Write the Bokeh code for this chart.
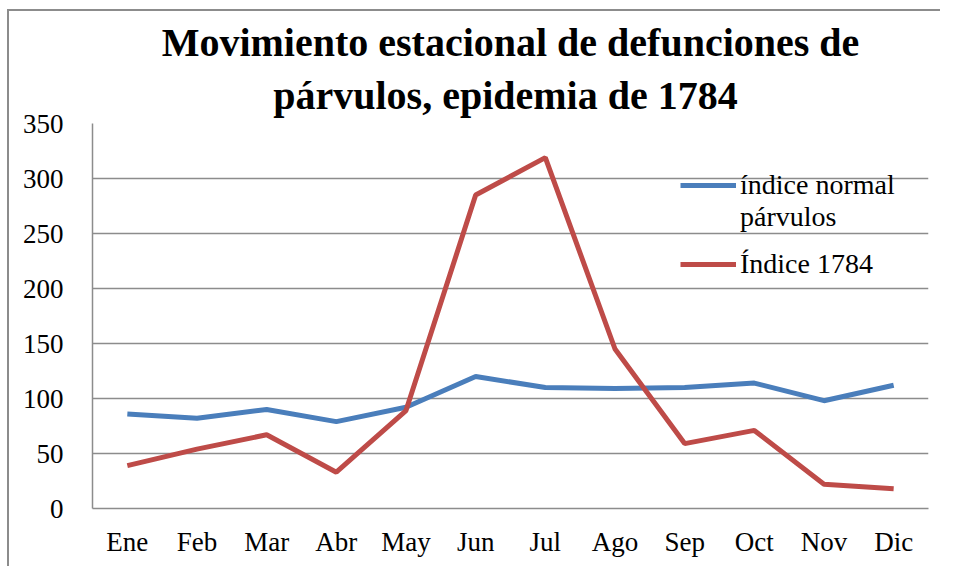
from bokeh.plotting import figure
from bokeh.models import Title, Legend, LegendItem, FactorRange, Range1d, SingleIntervalTicker
from bokeh.embed import file_html
from bokeh.resources import INLINE

months = ["Ene", "Feb", "Mar", "Abr", "May", "Jun", "Jul", "Ago", "Sep", "Oct", "Nov", "Dic"]
normal = [86, 82, 90, 79, 92, 120, 110, 109, 110, 114, 98, 112]
epid_1784 = [39, 54, 67, 33, 89, 285, 319, 145, 59, 71, 22, 18]
title_line1 = "Movimiento estacional de defunciones de"
title_line2 = "párvulos, epidemia  de 1784"
label_normal_1 = "índice normal"
label_normal_2 = "párvulos"
label_1784 = "Índice 1784"

FONT = "Liberation Serif"
BLUE = "#4A7EBB"
RED = "#BE4B48"
GRID = "#8c8c8c"

p = figure(x_range=FactorRange(*months), y_range=Range1d(0, 350),
           width=933, height=557, output_backend="svg", toolbar_location=None,
           min_border_left=83, min_border_right=14, min_border_bottom=60, min_border_top=112)

p.styles = {"border-left": "2px solid #8c8c8c", "border-top": "2px solid #8c8c8c",
            "margin-left": "7px", "margin-top": "9px"}

p.title.text = title_line1
p.title.align = "center"
p.title.text_font = FONT
p.title.text_font_size = "40px"
p.title.text_font_style = "bold"
p.title.text_color = "black"
p.title.standoff = 0
p.add_layout(Title(text=title_line2, align="center", text_font=FONT, text_font_size="40px",
                   text_font_style="bold", text_color="black", standoff=12), "above")

r1 = p.line(months, normal, line_color=BLUE, line_width=5)
r2 = p.line(months, epid_1784, line_color=RED, line_width=5)
r_blank = p.line(months, normal, line_alpha=0)

common = dict(background_fill_alpha=0, border_line_alpha=0, label_text_font=FONT,
              label_text_font_size="28px", label_text_color="black", glyph_width=56,
              glyph_height=28, label_height=28, label_standoff=4, spacing=0,
              padding=0, margin=0)
legend_a = Legend(items=[LegendItem(label=label_normal_1, renderers=[r1]),
                         LegendItem(label=label_normal_2, renderers=[r_blank])],
                  location=(588, 275), **common)
legend_b = Legend(items=[LegendItem(label=label_1784, renderers=[r2])],
                  location=(588, 228), **common)
p.add_layout(legend_a)
p.add_layout(legend_b)

p.yaxis.ticker = SingleIntervalTicker(interval=50)
for ax in (p.xaxis, p.yaxis):
    ax.axis_line_color = GRID
    ax.axis_line_width = 1.5
    ax.major_tick_line_color = None
    ax.minor_tick_line_color = None
    ax.major_tick_out = 0
    ax.major_tick_in = 0
    ax.major_label_text_font = FONT
    ax.major_label_text_font_size = "27px"
    ax.major_label_text_color = "black"
p.xaxis.major_label_standoff = 18
p.yaxis.major_label_standoff = 25

p.xgrid.grid_line_color = None
p.ygrid.grid_line_color = GRID
p.ygrid.grid_line_width = 1.5
p.outline_line_color = None

open("out.html", "w").write(file_html(p, INLINE))
